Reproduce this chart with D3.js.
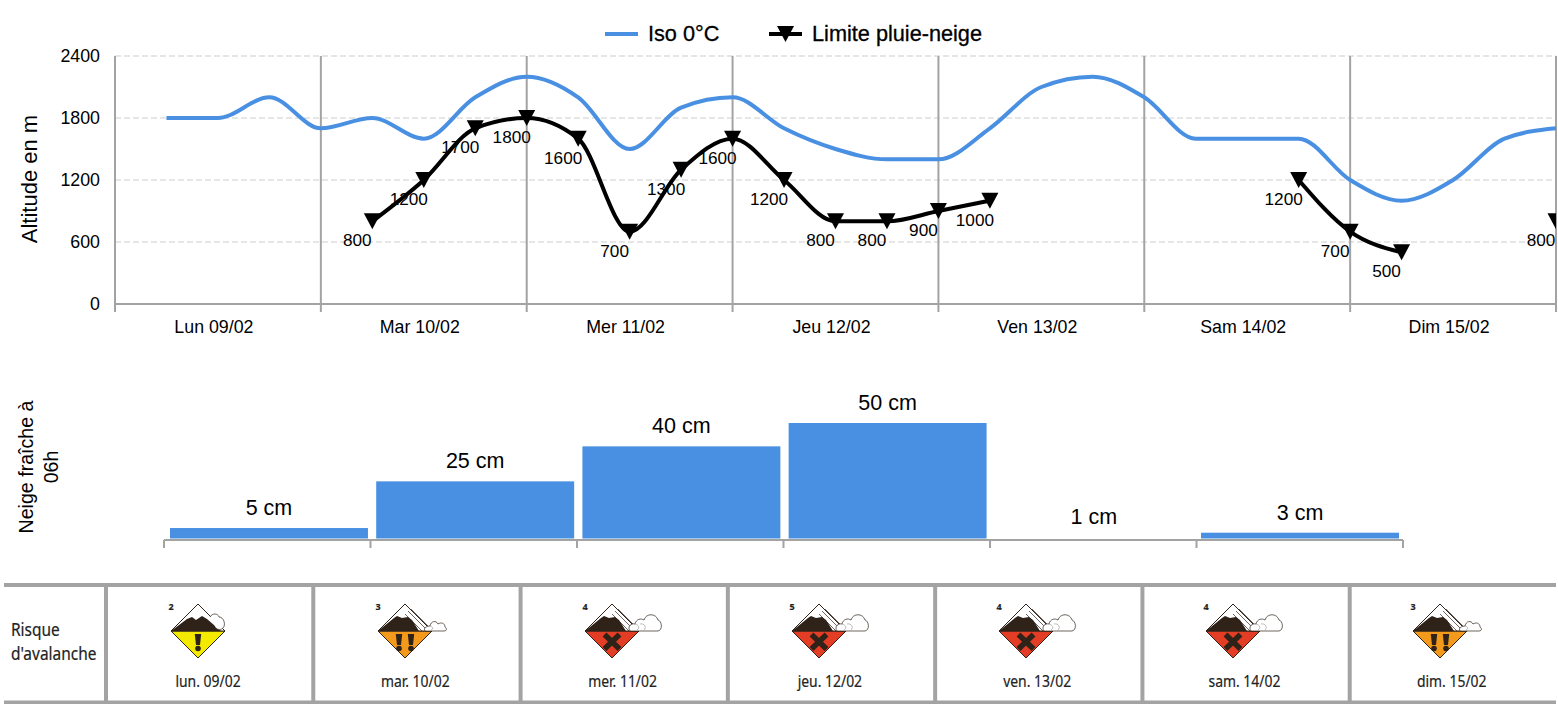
<!DOCTYPE html>
<html>
<head>
<meta charset="utf-8">
<script src="https://cdn.jsdelivr.net/npm/d3@7"></script>
<style>
body { margin: 0; background: #fff; }
text { font-family: "Liberation Sans", Arial, sans-serif; fill: #000; }
text.cond { font-family: "Noto Sans", sans-serif; fill: #222; stroke: #222; stroke-width: 0.2; }
</style>
</head>
<body>
<script>
var days = ["Lun 09/02", "Mar 10/02", "Mer 11/02", "Jeu 12/02", "Ven 13/02", "Sam 14/02", "Dim 15/02"];
var altTicks = [0, 600, 1200, 1800, 2400];

// one value every 6 hours, index 0 = left edge of the plot
var iso = [null, 1800, 1800, 2000, 1700, 1800, 1600, 2000, 2200, 2000, 1500, 1900, 2000, 1700, 1500, 1400, 1400, 1700, 2100, 2200, 2000, 1600, 1600, 1600, 1200, 1000, 1200, 1600, 1700];
var limite = [null, null, null, null, null, 800, 1200, 1700, 1800, 1600, 700, 1300, 1600, 1200, 800, 800, 900, 1000, null, null, null, null, null, 1200, 700, 500, null, null, 800];

var neige = [5, 25, 40, 50, 1, 3];

var risque = [2, 3, 4, 5, 4, 4, 3];
var risqueDays = ["lun. 09/02", "mar. 10/02", "mer. 11/02", "jeu. 12/02", "ven. 13/02", "sam. 14/02", "dim. 15/02"];

var blue = "#4a90e2", grey = "#a3a3a3";

var svg = d3.select("body").append("svg")
            .attr("width", 1558)
            .attr("height", 704)
            .style("display", "block");

// ---- top chart ----
var x = d3.scaleLinear().domain([0, 28]).range([115, 1556]),
    y = d3.scaleLinear().domain([0, 2400]).range([304, 56]);

svg.append("clipPath").attr("id", "plot")
   .append("rect").attr("x", 100).attr("y", 40).attr("width", 1456).attr("height", 280);

svg.selectAll(".grid").data(altTicks.slice(1)).enter().append("line")
   .attr("x1", 115).attr("x2", 1556)
   .attr("y1", function(d){return y(d);}).attr("y2", function(d){return y(d);})
   .attr("stroke", "#e6e6e6").attr("stroke-width", 2).attr("stroke-dasharray", "6 3");

svg.selectAll(".vline").data(d3.range(0, 8)).enter().append("line")
   .attr("x1", function(d){return x(d*4);}).attr("x2", function(d){return x(d*4);})
   .attr("y1", 56).attr("y2", 312)
   .attr("stroke", grey).attr("stroke-width", 2);

svg.append("line").attr("x1", 115).attr("x2", 1556).attr("y1", y(0)).attr("y2", y(0))
   .attr("stroke", grey).attr("stroke-width", 2);

svg.selectAll(".ylab").data(altTicks).enter().append("text")
   .attr("x", 100).attr("y", function(d){return y(d)+6;})
   .attr("text-anchor", "end").attr("font-size", 17.8)
   .text(function(d){return d;});

svg.selectAll(".xlab").data(days).enter().append("text")
   .attr("x", function(d, i){return x(i*4+2)-4;}).attr("y", 333)
   .attr("text-anchor", "middle").attr("font-size", 17.8)
   .text(function(d){return d;});

svg.append("text")
   .attr("transform", "translate(37,179) rotate(-90)")
   .attr("text-anchor", "middle").attr("font-size", 22)
   .text("Altitude en m");

var line = d3.line()
             .defined(function(d){return d !== null;})
             .x(function(d, i){return x(i);})
             .y(function(d){return y(d);})
             .curve(d3.curveMonotoneX);

var plot = svg.append("g").attr("clip-path", "url(#plot)");

plot.append("path").attr("d", line(iso))
    .attr("fill", "none").attr("stroke", blue).attr("stroke-width", 4);
plot.append("path").attr("d", line(limite))
    .attr("fill", "none").attr("stroke", "#000").attr("stroke-width", 4);

var limitePts = limite.map(function(d, i){return {v: d, i: i};})
                      .filter(function(d){return d.v !== null;});

function tri(sel) {
  return sel.attr("d", "M-8.5,-8L8.5,-8L0,8Z").attr("fill", "#000");
}

tri(plot.selectAll(".mark").data(limitePts).enter().append("path"))
    .attr("transform", function(d){return "translate("+x(d.i)+","+y(d.v)+")";});

svg.selectAll(".val").data(limitePts).enter().append("text")
   .attr("x", function(d){return x(d.i)-15;})
   .attr("y", function(d){return y(d.v)+25;})
   .attr("text-anchor", "middle").attr("font-size", 17.2)
   .text(function(d){return d.v;});

// legend
svg.append("line").attr("x1", 605).attr("x2", 638).attr("y1", 34).attr("y2", 34)
   .attr("stroke", blue).attr("stroke-width", 4);
svg.append("text").attr("x", 648).attr("y", 41).attr("font-size", 21.7)
   .attr("stroke", "#000").attr("stroke-width", 0.3).text("Iso 0°C");
svg.append("line").attr("x1", 769).attr("x2", 802).attr("y1", 34).attr("y2", 34)
   .attr("stroke", "#000").attr("stroke-width", 4);
tri(svg.append("path")).attr("transform", "translate(785.5,34)");
svg.append("text").attr("x", 812).attr("y", 41).attr("font-size", 21.7)
   .attr("stroke", "#000").attr("stroke-width", 0.3).text("Limite pluie-neige");

// ---- snow bars ----
var xb = d3.scaleBand().domain(d3.range(neige.length)).range([170, 1399]).paddingInner(0.04),
    yb = d3.scaleLinear().domain([0, 50]).range([539.7, 423]);

// the 1 cm bar is too thin to show in the source, only its label does
svg.selectAll(".bar").data(neige.map(function(d, i){return {v: d, i: i};}).filter(function(d){return d.v > 1;}))
   .enter().append("rect")
   .attr("x", function(d){return xb(d.i);})
   .attr("width", xb.bandwidth())
   .attr("y", function(d){return yb(d.v);})
   .attr("height", function(d){return 538.5-yb(d.v);})
   .attr("fill", blue);

svg.append("line").attr("x1", 164).attr("x2", 1403).attr("y1", 540).attr("y2", 540)
   .attr("stroke", grey).attr("stroke-width", 2);

svg.selectAll(".btick").data(d3.range(0, neige.length+1)).enter().append("line")
   .attr("x1", function(d){return 164+d*(1403-164)/neige.length;})
   .attr("x2", function(d){return 164+d*(1403-164)/neige.length;})
   .attr("y1", 540).attr("y2", 548)
   .attr("stroke", grey).attr("stroke-width", 2);

svg.selectAll(".blab").data(neige).enter().append("text")
   .attr("x", function(d, i){return xb(i)+xb.bandwidth()/2;})
   .attr("y", function(d){return yb(d)-13;})
   .attr("text-anchor", "middle").attr("font-size", 21.5)
   .text(function(d){return d+" cm";});

svg.append("text").attr("transform", "translate(33,467) rotate(-90)")
   .attr("text-anchor", "middle").attr("font-size", 19.6).text("Neige fraîche à");
svg.append("text").attr("transform", "translate(58,467) rotate(-90)")
   .attr("text-anchor", "middle").attr("font-size", 19.6).text("06h");

// ---- avalanche table ----
var xc = d3.scaleLinear().domain([0, 7]).range([106, 1557]),
    xi = d3.scaleLinear().domain([0, 6]).range([198, 1440]);

svg.selectAll(".hbar").data([585, 702.5]).enter().append("line")
   .attr("x1", 4).attr("x2", 1556)
   .attr("y1", function(d){return d;}).attr("y2", function(d){return d;})
   .attr("stroke", grey).attr("stroke-width", 4);

svg.selectAll(".vbar").data(d3.range(0, 7)).enter().append("line")
   .attr("x1", function(d){return xc(d);}).attr("x2", function(d){return xc(d);})
   .attr("y1", 585).attr("y2", 702)
   .attr("stroke", grey).attr("stroke-width", 4);

var riskCols = {2: "#f4ea00", 3: "#f39a1c", 4: "#e43d25", 5: "#e43d25"};
var ink = "#2e2219";

function drawIcon(g, d) {
  // danger colour below the horizon
  g.append("path").attr("d", "M-27,0L27,0L0,27Z").attr("fill", riskCols[d])
   .attr("stroke", ink).attr("stroke-width", 1);
  // top half of the diamond with its snow cap
  g.append("path").attr("d", "M-27,0L0,-27L27,0Z").attr("fill", "#fff")
   .attr("stroke", ink).attr("stroke-width", 1);

  if (d == 2) {
    g.append("path").attr("d", "M-27,0L-11,-12L-6,-14L-2,-11L4,-15L9,-12L23,0Z").attr("fill", ink);
    g.append("path").attr("d", "M12,-14C14,-18 20,-18 21,-14C26,-14 28,-6 25,-3C23,-1 20,-1 18,-3")
     .attr("fill", "#fff").attr("stroke", ink).attr("stroke-width", 0.7);
  } else {
    g.append("path").attr("d", "M-27,0L-11,-13L-8,-15L-3,-13L3,-14L7,-11L14,0Z").attr("fill", ink);
    // the avalanche streaks, parallel to the right edge
    g.append("path").attr("d", "M3,-20L23,0M6,-22L26,-2M0,-17L17,0")
     .attr("stroke", ink).attr("stroke-width", 0.7).attr("fill", "none");
    g.append("path").attr("d", d > 3
        ? "M18,0C15,-4 19,-8 23,-7C24,-12 29,-13 32,-11C34,-18 44,-18 46,-11C50,-10 51,-1 46,0Z"
        : "M20,0C18,-3 22,-5 25,-5C26,-10 31,-11 33,-7C36,-9 40,-8 40,-4C42,-3 42,0 39,0Z")
     .attr("fill", "#fff").attr("stroke", ink).attr("stroke-width", 0.7);
    g.append("path").attr("d", d > 3
        ? "M25,-1C28,-3 27,-6 23,-7M32,-1C35,-4 32,-8 28,-7"
        : "M26,-1C29,-2 28,-4 25,-5")
     .attr("fill", "none").attr("stroke", "#777").attr("stroke-width", 0.5);
  }

  if (d == 2 || d == 3) {
    (d == 2 ? [0] : [-6, 6]).forEach(function(dx) {
      g.append("path").attr("d", "M"+(dx-3.2)+",3L"+(dx+3.2)+",3L"+(dx+2)+",14L"+(dx-2)+",14Z").attr("fill", ink);
      g.append("circle").attr("cx", dx).attr("cy", 17.5).attr("r", 2.8).attr("fill", ink);
    });
  } else {
    g.append("path").attr("d", "M-7.5,3.5L7.5,18M7.5,3.5L-7.5,18").attr("stroke", ink).attr("stroke-width", 5.5);
  }
  g.append("text").attr("class", "cond").attr("x", -27).attr("y", -21)
   .attr("font-size", 9).attr("font-weight", 700).attr("text-anchor", "middle").text(d);
}

// condensed look: no condensed font here, so squeeze the glyphs sideways
function cond(px, py, size, sx, anchor, s) {
  svg.append("text").attr("class", "cond")
     .attr("transform", "translate("+px+","+py+") scale("+sx+",1)")
     .attr("text-anchor", anchor).attr("font-size", size).text(s);
}

risque.forEach(function(d, i) {
  var g = svg.append("g").attr("transform", "translate("+xi(i)+",631)");
  drawIcon(g, d);
  cond(xc(i)+102, 687, 17, 0.82, "middle", risqueDays[i]);
});

cond(11, 636, 18, 0.86, "start", "Risque");
cond(11, 660, 18, 0.86, "start", "d'avalanche");
</script>
</body>
</html>
